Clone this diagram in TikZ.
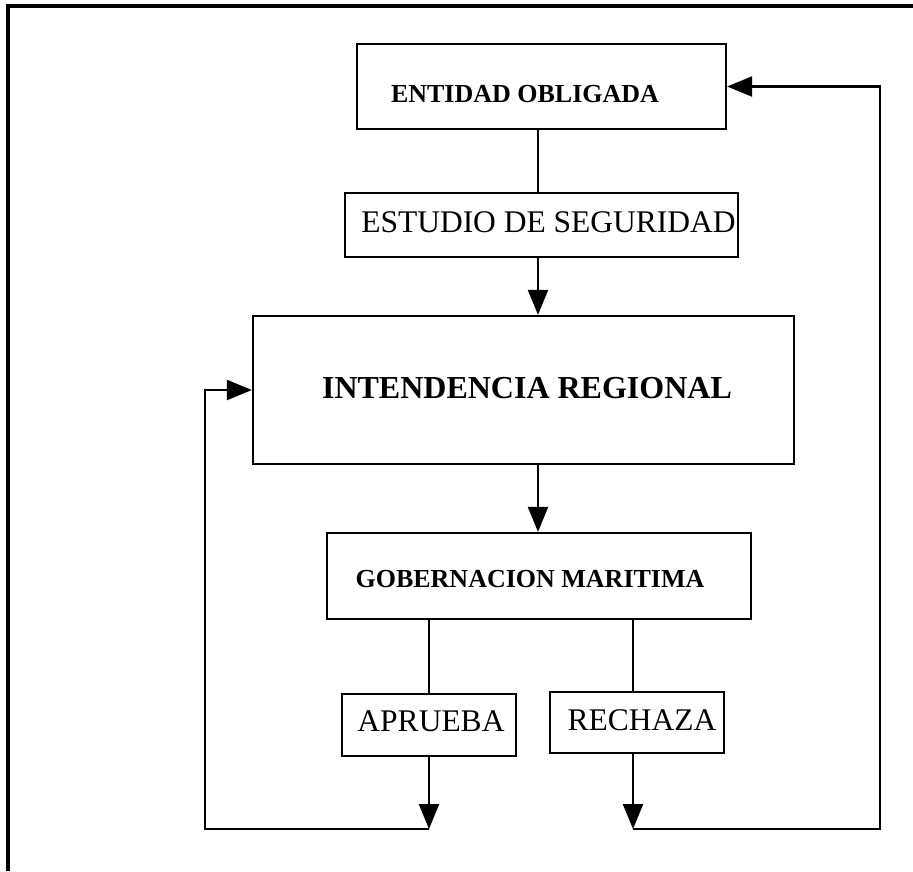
\documentclass[tikz,border=0pt]{standalone}
\usepackage{fontspec}
\setmainfont{Liberation Serif}
\usetikzlibrary{arrows.meta}
\begin{document}
\begin{tikzpicture}[x=1pt,y=-1pt,
  box/.style={draw, line width=2.3pt, inner sep=0pt, rectangle},
  arr/.style={line width=2.3pt, -{Triangle[length=25pt,width=20pt]}},
  ln/.style={line width=2.3pt},
  bigbold/.style={font=\bfseries\fontsize{32}{38}\selectfont},
  midbold/.style={font=\bfseries\fontsize{26}{30}\selectfont},
  plain/.style={font=\fontsize{31.5}{36}\selectfont}]
\useasboundingbox (0,0) rectangle (913,871);
% page frame
\draw[line width=4pt] (8,871) -- (8,5.7) -- (913,5.7);

% boxes
\node[box, minimum width=369pt, minimum height=85pt,
  label={[midbold, xshift=-16.5pt, yshift=-8pt]center:ENTIDAD OBLIGADA}] (ent) at (541.5,86.5) {};
\node[box, minimum width=393pt, minimum height=64pt,
  label={[plain, xshift=7pt, yshift=2.5pt]center:ESTUDIO DE SEGURIDAD}] (est) at (541.5,225) {};
\node[box, minimum width=541pt, minimum height=148pt,
  label={[bigbold, xshift=3.5pt, yshift=2pt]center:INTENDENCIA REGIONAL}] (int) at (523.5,390) {};
\node[box, minimum width=424pt, minimum height=86pt,
  label={[midbold, xshift=-9pt, yshift=-3pt]center:GOBERNACION MARITIMA}] (gob) at (539,576) {};
\node[box, minimum width=174pt, minimum height=62pt,
  label={[plain, xshift=2pt, yshift=3.5pt]center:APRUEBA}] (apr) at (429,725) {};
\node[box, minimum width=174pt, minimum height=61pt,
  label={[plain, xshift=5pt, yshift=2.5pt]center:RECHAZA}] (rech) at (637,722.5) {};

% free ends and corners
\coordinate (ba) at (429,829);
\coordinate (br) at (633,829);
\coordinate (lc) at (205,829);
\coordinate (rc) at (880,829);

% connectors
\draw[ln] ([xshift=-3.5pt]ent.south) -- ([xshift=-3.5pt]est.north);
\draw[arr] ([xshift=-3.5pt]est.south) -- ([xshift=-3.5pt]est.south |- int.north);
\draw[arr] ([xshift=-1pt]gob.north |- int.south) -- ([xshift=-1pt]gob.north);
\draw[ln] (apr.north |- gob.south) -- (apr.north);
\draw[ln] ([xshift=-4pt]rech.north |- gob.south) -- ([xshift=-4pt]rech.north);
\draw[arr] (apr.south) -- (ba);
\draw[arr] ([xshift=-4pt]rech.south) -- (br);
\draw[arr] (ba) -- (lc) |- (int.west);
\draw[arr] (br) -- (rc) |- (ent.east);
\end{tikzpicture}
\end{document}
